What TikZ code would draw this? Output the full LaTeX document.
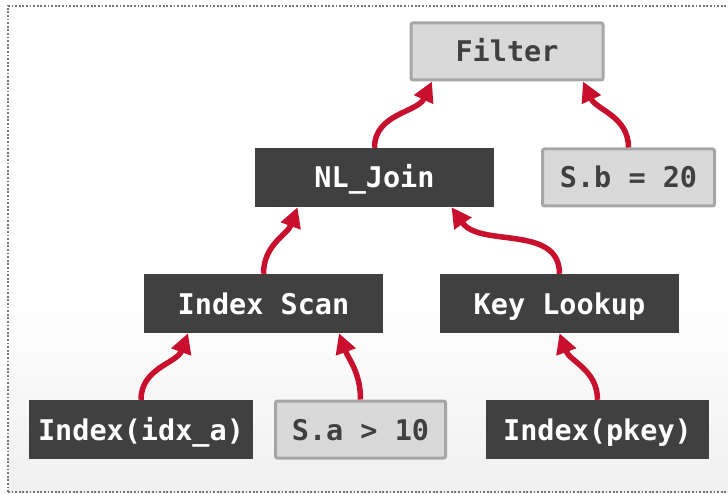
\documentclass[tikz,border=0pt]{standalone}
\usepackage{fontspec}
\setmonofont{DejaVu Sans Mono}
\usetikzlibrary{arrows.meta}
\definecolor{darkfill}{HTML}{404040}
\definecolor{lightfill}{HTML}{D9D9D9}
\definecolor{lightline}{HTML}{A6A6A6}
\definecolor{flowred}{HTML}{C8102E}
\definecolor{framegray}{HTML}{767676}
\tikzset{
  plannode/.style={rectangle, inner sep=0pt, minimum height=59pt,
    text height=21pt, text depth=0pt,
    font=\ttfamily\bfseries\fontsize{28.5}{30}\selectfont},
  darkbox/.style={plannode, fill=darkfill, text=white},
  lightbox/.style={plannode, fill=lightfill, draw=lightline, line width=3pt,
    rounded corners=2pt, text=darkfill, minimum height=57pt},
  flow/.style={draw=flowred, line width=5.5pt,
    -{Triangle[length=20pt,width=20pt]}},
  framedots/.style={framegray, line width=1.8pt, dash pattern=on 1.8pt off 1.8pt},
}
\begin{document}
\begin{tikzpicture}[x=1pt,y=-1pt]
\useasboundingbox (0,0) rectangle (728,494);
\shade[top color=white, bottom color=black!6] (8,300) rectangle (740,492);
\draw[framedots] (8,492) -- (8,6) -- (740,6);
\draw[framedots] (8,492) -- (740,492);

\node[lightbox, minimum width=192pt] (filter) at (507,51.5) {Filter};
\node[lightbox, minimum width=172pt] (sb) at (628.5,177.5) {S.b = 20};
\node[darkbox, minimum width=239pt] (join) at (374.5,177.5) {NL\_Join};
\node[darkbox, minimum width=239pt] (scan) at (263.5,303.5) {Index Scan};
\node[darkbox, minimum width=239pt] (lookup) at (559.5,303.5) {Key Lookup};
\node[darkbox, minimum width=224pt] (idxa) at (141,429.5) {Index(idx\_a)};
\node[lightbox, minimum width=170pt] (sa) at (360.5,429.5) {S.a > 10};
\node[darkbox, minimum width=223pt] (pkey) at (597.5,429.5) {Index(pkey)};

\draw[flow] (join.north) to[out=90,in=-115] ([xshift=-75pt]filter.south);
\draw[flow] (sb.north) to[out=90,in=-65] ([xshift=76pt]filter.south);
\draw[flow] (scan.north) to[out=90,in=-110] ([xshift=-77pt]join.south);
\draw[flow] (lookup.north) to[out=90,in=-55] ([xshift=77pt]join.south);
\draw[flow] (idxa.north) to[out=90,in=-110] ([xshift=-75.5pt]scan.south);
\draw[flow] (sa.north) to[out=90,in=-70] ([xshift=75.5pt]scan.south);
\draw[flow] (pkey.north) to[out=90,in=-70] (lookup.south);
\end{tikzpicture}
\end{document}
